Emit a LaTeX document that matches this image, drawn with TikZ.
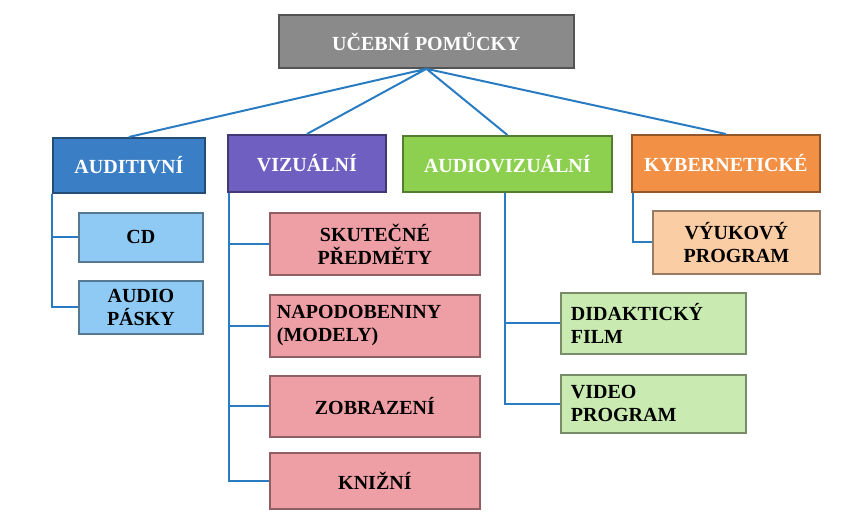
\documentclass[tikz,border=0pt]{standalone}
\usepackage{fontspec}
\setmainfont{Liberation Serif}
\begin{document}
\begin{tikzpicture}[x=1pt,y=-1pt,
  bx/.style={draw=#1!60!black, line width=1.8pt, inner sep=0pt, align=center, font=\bfseries\fontsize{20}{23}\selectfont},
  con/.style={draw=cline, line width=2pt}]
\definecolor{cline}{HTML}{2A7CC2}
\definecolor{cgray}{HTML}{8A8A8A}
\definecolor{cblue}{HTML}{3A7FC6}
\definecolor{cpurp}{HTML}{6E5FC0}
\definecolor{cgreen}{HTML}{8DD04F}
\definecolor{corange}{HTML}{F29046}
\definecolor{lblue}{HTML}{8FCAF5}
\definecolor{cpink}{HTML}{EE9FA6}
\definecolor{cpeach}{HTML}{FBCDA4}
\definecolor{lgreen}{HTML}{C9EAB0}
\useasboundingbox (0,0) rectangle (865,517);
\node[bx=cgray, fill=cgray, text=white, minimum width=295pt, minimum height=53pt, anchor=north west] (root) at (278,14) {UČEBNÍ POMŮCKY};
\node[bx=cblue, fill=cblue, text=white, minimum width=152pt, minimum height=55pt, anchor=north west] (aud) at (52,137) {AUDITIVNÍ};
\node[bx=cpurp, fill=cpurp, text=white, minimum width=158pt, minimum height=57pt, anchor=north west] (viz) at (227,134) {VIZUÁLNÍ};
\node[bx=cgreen, fill=cgreen, text=white, minimum width=209pt, minimum height=56pt, anchor=north west] (av) at (402,135) {AUDIOVIZUÁLNÍ};
\node[bx=corange, fill=corange, text=white, minimum width=188pt, minimum height=57pt, anchor=north west] (kyb) at (631,134) {KYBERNETICKÉ};
\node[bx=lblue, fill=lblue, minimum width=124pt, minimum height=49pt, anchor=north west] (cd) at (78,212) {CD};
\node[bx=lblue, fill=lblue, minimum width=124pt, minimum height=53pt, anchor=north west] (ap) at (78,280) {AUDIO\\PÁSKY};
\node[bx=cpink, fill=cpink, minimum width=210pt, minimum height=62pt, anchor=north west] (sk) at (269,212) {SKUTEČNÉ\\PŘEDMĚTY};
\node[bx=cpink, fill=cpink, minimum width=210pt, minimum height=62pt, anchor=north west, align=left, text width=196pt] (nap) at (269,294) {NAPODOBENINY\\(MODELY)};
\node[bx=cpink, fill=cpink, minimum width=210pt, minimum height=61pt, anchor=north west] (zob) at (269,375) {ZOBRAZENÍ};
\node[bx=cpink, fill=cpink, minimum width=210pt, minimum height=56pt, anchor=north west] (kn) at (269,452) {KNIŽNÍ};
\node[bx=cpeach, fill=cpeach, minimum width=167pt, minimum height=63pt, anchor=north west] (vyu) at (652,210) {VÝUKOVÝ\\PROGRAM};
\node[bx=lgreen, fill=lgreen, minimum width=185pt, minimum height=61pt, anchor=north west, align=left, text width=165pt] (did) at (560,292) {DIDAKTICKÝ\\FILM};
\node[bx=lgreen, fill=lgreen, minimum width=185pt, minimum height=58pt, anchor=north west, align=left, text width=165pt] (vid) at (560,374) {VIDEO\\PROGRAM};
\coordinate (r) at (root.south);
\draw[con] (r) -- (aud.north) (r) -- (viz.north) (r) -- (av.north) (r) -- (kyb.north);
\draw[con] (aud.south west) -- (aud.south west |- ap.west) -- (ap.west);
\draw[con] (aud.south west |- cd.west) -- (cd.west);
\draw[con] ([xshift=2pt]viz.south west) -- ([xshift=2pt]viz.south west |- kn.west) -- (kn.west);
\foreach \n in {sk,nap,zob} \draw[con] ([xshift=2pt]viz.south west |- \n.west) -- (\n.west);
\draw[con] ([xshift=-2pt]av.south) -- ([xshift=-2pt]av.south |- vid.west) -- (vid.west);
\draw[con] ([xshift=-2pt]av.south |- did.west) -- (did.west);
\draw[con] ([xshift=2pt]kyb.south west) -- ([xshift=2pt]kyb.south west |- vyu.west) -- (vyu.west);
\end{tikzpicture}
\end{document}
